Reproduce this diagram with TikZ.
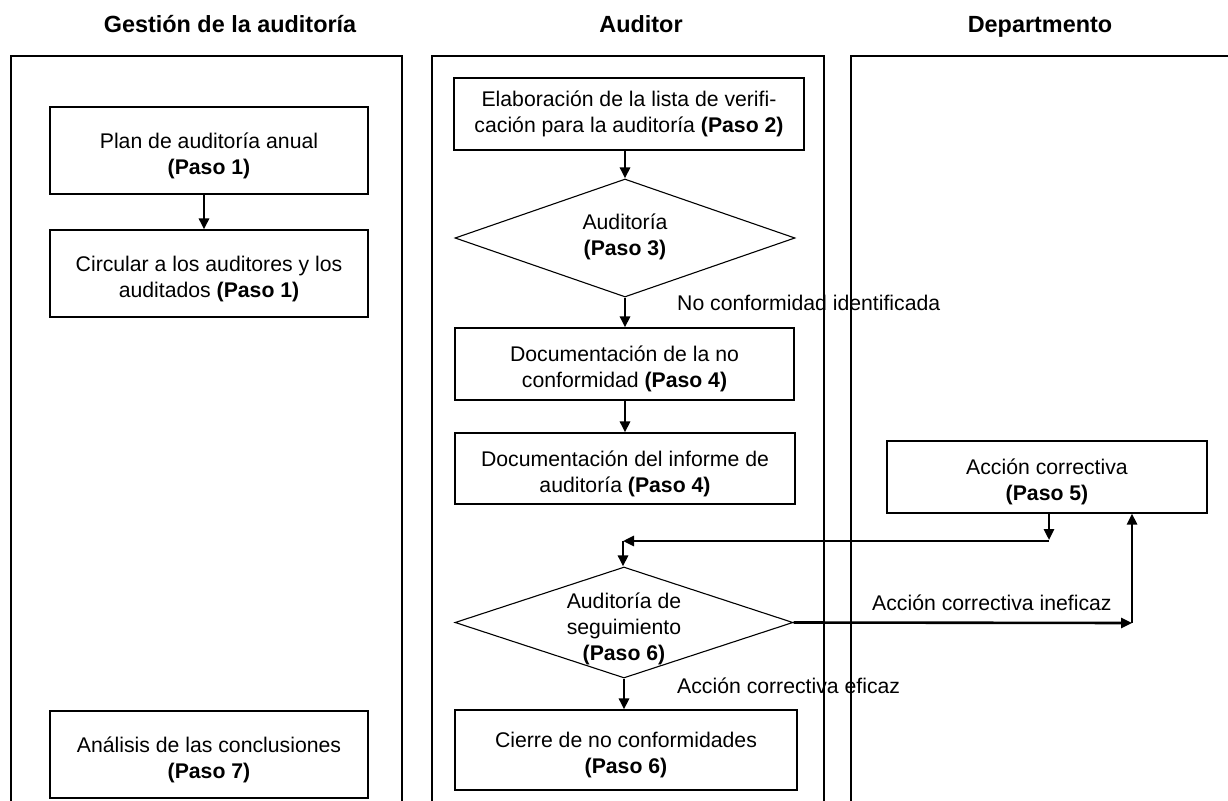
\documentclass[tikz,border=0pt]{standalone}
\usepackage{fontspec}
\setmainfont{Liberation Sans}
\usetikzlibrary{shapes.geometric,arrows.meta}
\newcommand{\bodyfont}{\fontsize{21.3}{26}\selectfont}
\newcommand{\headfont}{\fontsize{23.5}{28}\selectfont\bfseries}
% invisible strut that lowers the two text lines a little inside the boxes
\newcommand{\firstline}{\rule{0pt}{26bp}}
\tikzset{
  lane/.style={line width=2.2bp},
  stepbox/.style={draw, line width=1.1bp, inner sep=0pt, align=center, font=\bodyfont},
  decision/.style={diamond, draw, line width=1.1bp, inner sep=0pt},
  decisiontext/.style={inner sep=0pt, align=center, font=\bodyfont},
  header/.style={font=\headfont, inner sep=0pt, anchor=base},
  flowlabel/.style={font=\bodyfont, inner sep=0pt, anchor=base west},
  arr/.style={line width=2.6bp, -{Triangle[length=11bp,width=10bp]}}
}
\begin{document}
\begin{tikzpicture}[x=1bp,y=-1bp]
\useasboundingbox (0,0) rectangle (1228,801);
\clip (0,0) rectangle (1228,801);
\fill[white] (0,0) rectangle (1228,801);

% swimlanes (open at the bottom)
\draw[lane] (11,805) -- (11,56) -- (402,56) -- (402,805);
\draw[lane] (432,805) -- (432,56) -- (824,56) -- (824,805);
\draw[lane] (851,805) -- (851,56) -- (1235,56);

% lane titles
\node[header] (h1) at (230,33) {Gestión de la auditoría};
\node[header] (h2) at (641,33) {Auditor};
\node[header] (h3) at (1040,33) {Departmento};

% audit management lane
\node[stepbox, minimum width=318bp, minimum height=87bp] (plan) at (209,150.5)
  {\firstline Plan de auditoría anual\\ \textbf{(Paso 1)}};
\node[stepbox, minimum width=318bp, minimum height=87bp] (circ) at (209,273.5)
  {\firstline Circular a los auditores y los\\ auditados \textbf{(Paso 1)}};
\node[stepbox, minimum width=318bp, minimum height=87bp] (anal) at (209,754.5)
  {\firstline Análisis de las conclusiones\\ \textbf{(Paso 7)}};

% auditor lane
\node[stepbox, minimum width=350bp, minimum height=72bp] (elab) at (629,114)
  {Elaboración de la lista de verifi-\\ cación para la auditoría \textbf{(Paso 2)}};
\node[decision, minimum width=340bp, minimum height=118bp] (d1) at (625,238) {};
\node[decisiontext] (d1text) at (625,237) {Auditoría\\ \textbf{(Paso 3)}};
\node[stepbox, minimum width=339bp, minimum height=72bp] (docnc) at (624.5,364)
  {\firstline Documentación de la no\\ conformidad \textbf{(Paso 4)}};
\node[stepbox, minimum width=340bp, minimum height=71bp] (docinf) at (625,468.5)
  {\firstline Documentación del informe de\\ auditoría \textbf{(Paso 4)}};
\node[decision, minimum width=338bp, minimum height=111bp] (d2) at (624,622.5) {};
\node[decisiontext] (d2text) at (624,629) {Auditoría de\\ seguimiento\\ \textbf{(Paso 6)}};
\node[stepbox, minimum width=342bp, minimum height=80bp] (cierre) at (626,750)
  {\firstline Cierre de no conformidades\\ \textbf{(Paso 6)}};

% department lane
\node[stepbox, minimum width=320bp, minimum height=72bp] (accion) at (1047,477)
  {\firstline Acción correctiva\\ \textbf{(Paso 5)}};

% bends of the routed connectors
\coordinate (r1) at (1049,541);
\coordinate (r2) at (623,541);
\coordinate (q1) at (1132,623);

% connectors
\draw[arr] ([xshift=-5bp]plan.south) -- ([xshift=-5bp]circ.north);
\draw[arr] (elab.south -| d1.north) -- (d1.north);
\draw[arr] (d1.south) -- (d1.south |- docnc.north);
\draw[arr] (docnc.south -| docinf.north) -- (docinf.north);
\draw[arr] (accion.south -| r1) -- ([yshift=1bp]r1);
\draw[arr] (r1) -- (r2);
\draw[arr] (r2) -- (r2 |- d2.north);
\draw[arr] (d2.east) -- (q1);
\draw[arr] (q1) -- (q1 |- accion.south);
\draw[arr] (d2.south) -- (d2.south |- cierre.north);

% connector labels
\node[flowlabel] (l1) at (677,310) {No conformidad identificada};
\node[flowlabel] (l2) at (872,610) {Acción correctiva ineficaz};
\node[flowlabel] (l3) at (677,693) {Acción correctiva eficaz};
\end{tikzpicture}
\end{document}
